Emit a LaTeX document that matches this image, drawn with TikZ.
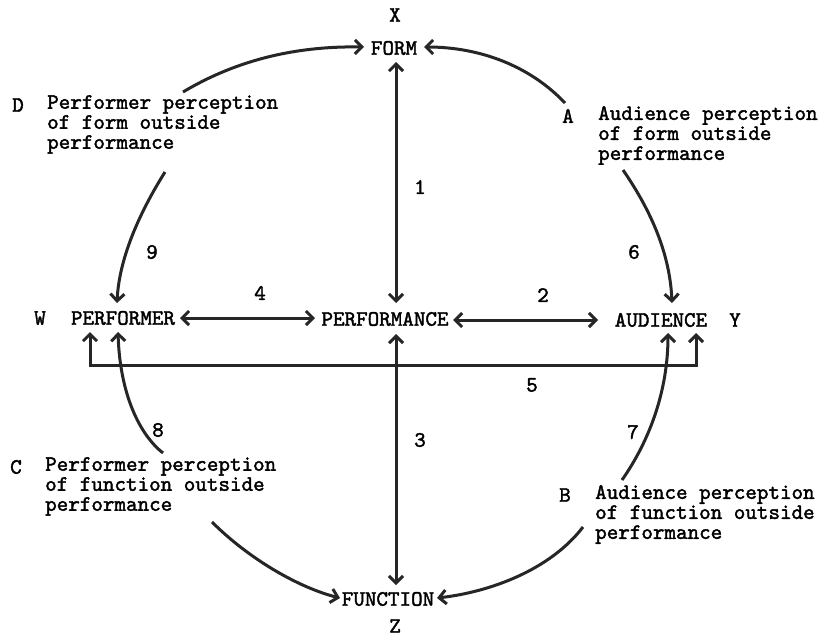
\documentclass[tikz,border=0pt]{standalone}
\usepackage{fontspec}
\usetikzlibrary{arrows.meta}
\newfontfamily\tw{lmmono10-regular.otf}[FakeBold=1.8]
\begin{document}
\begin{tikzpicture}[x=1pt,y=-1pt,
  >={Straight Barb[length=7pt,width=14pt]},
  lbl/.style={inner sep=0pt,font=\tw\fontsize{22}{20}\selectfont},
  desc/.style={lbl,align=left,anchor=north west},
  conn/.style={line width=3pt,draw=black!85}]
\useasboundingbox[fill=white] (0,0) rectangle (822,637);
% main nodes
\node[lbl] (x) at (395,15) {X};
\node[lbl] (form) at (394,48) {FORM};
\node[lbl] (func) at (388,599) {FUNCTION};
\node[lbl] (z) at (395,626) {Z};
\node[lbl] (perf) at (385,319) {PERFORMANCE};
\node[lbl] (pfr) at (123,318) {PERFORMER};
\node[lbl] (w) at (40,318) {W};
\node[lbl] (aud) at (661,320) {AUDIENCE};
\node[lbl] (y) at (735,320) {Y};
% description nodes
\node[lbl] (dl) at (18,105) {D};
\node[desc] (d) at (47,95) {Performer perception\\of form outside\\performance};
\node[lbl] (al) at (568,116) {A};
\node[desc] (a) at (598,106) {Audience perception\\of form outside\\performance};
\node[lbl] (cl) at (16,467) {C};
\node[desc] (c) at (45,457) {Performer perception\\of function outside\\performance};
\node[lbl] (bl) at (565,495) {B};
\node[desc] (b) at (595,485) {Audience perception\\of function outside\\performance};
% numbers
\node[lbl] (n1) at (420,187) {1};
\node[lbl] (n2) at (543,295) {2};
\node[lbl] (n3) at (420,440) {3};
\node[lbl] (n4) at (260,293) {4};
\node[lbl] (n5) at (532,385) {5};
\node[lbl] (n6) at (634,252) {6};
\node[lbl] (n7) at (633,432) {7};
\node[lbl] (n8) at (158,430) {8};
\node[lbl] (n9) at (152,252) {9};
% coordinates for arrow ends
\coordinate (fs) at (396,62);
\coordinate (pn) at (396,303);
\coordinate (ps) at (396,334);
\coordinate (fn) at (396,585);
\coordinate (pfE) at (180,318);
\coordinate (pW) at (315,318);
\coordinate (pE) at (453,320);
\coordinate (aW) at (598,320);
\coordinate (fW) at (364,47);
\coordinate (fE) at (424,47);
\coordinate (pfN) at (117,303);
\coordinate (pfS1) at (90,332);
\coordinate (pfS2) at (118,332);
\coordinate (aN) at (672,303);
\coordinate (aS1) at (668,333);
\coordinate (aS2) at (696,333);
\coordinate (fuW) at (340,598);
\coordinate (fuE) at (437,598);
\coordinate (dS) at (165,172);
\coordinate (dN) at (183,92);
\coordinate (aNw) at (565,103);
\coordinate (aSw) at (623,170);
\coordinate (cN) at (163,453);
\coordinate (cS) at (212,522);
\coordinate (bN) at (622,480);
\coordinate (bS) at (583,527);
% connectors
\draw[conn,<->] (fs) -- (pn);
\draw[conn,<->] (ps) -- (fn);
\draw[conn,<->] (pfE) -- (pW);
\draw[conn,<->] (pE) -- (aW);
\draw[conn,<->] (pfS1) |- (696,365) -- (aS2);
\draw[conn,->] (dN) .. controls (240,58) and (300,46) .. (fW);
\draw[conn,->] (aNw) .. controls (530,66) and (480,47) .. (fE);
\draw[conn,->] (dS) .. controls (138,215) and (119,260) .. (pfN);
\draw[conn,->] (aSw) .. controls (652,212) and (670,255) .. (aN);
\draw[conn,->] (cN) .. controls (140,435) and (120,395) .. (pfS2);
\draw[conn,->] (bN) .. controls (650,440) and (668,390) .. (aS1);
\draw[conn,->] (cS) .. controls (250,560) and (300,588) .. (fuW);
\draw[conn,->] (bS) .. controls (550,570) and (490,592) .. (fuE);
\end{tikzpicture}
\end{document}
